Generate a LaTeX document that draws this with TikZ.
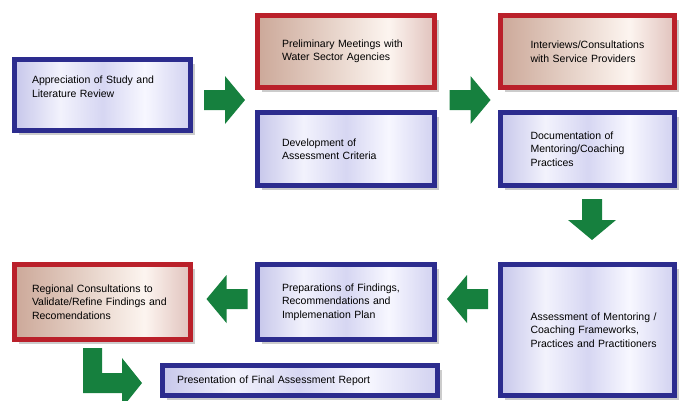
\documentclass[tikz,border=0pt]{standalone}
\usepackage{fontspec}
\setmainfont{Liberation Sans}
\usetikzlibrary{shadows}

\definecolor{framblue}{RGB}{44,44,142}
\definecolor{framred}{RGB}{186,32,42}
\definecolor{arrowgreen}{RGB}{22,128,62}

\pgfdeclarehorizontalshading{bluemetal}{100bp}{rgb(0bp)=(.78,.78,.92); rgb(25bp)=(.78,.78,.92); rgb(38bp)=(.95,.95,.99); rgb(50bp)=(.84,.84,.95); rgb(62bp)=(.97,.97,1); rgb(75bp)=(.82,.82,.94); rgb(100bp)=(.82,.82,.94)}
\pgfdeclarehorizontalshading{redmetal}{100bp}{rgb(0bp)=(.80,.66,.60); rgb(25bp)=(.80,.66,.60); rgb(45bp)=(.90,.82,.78); rgb(62bp)=(.99,.96,.94); rgb(75bp)=(.88,.76,.74); rgb(100bp)=(.88,.76,.74)}

\tikzset{
	stage/.style={rectangle, line width=5pt, align=left, inner ysep=2pt,
		font=\fontsize{10.5}{13.5}\selectfont,
		drop shadow={shadow xshift=4pt, shadow yshift=-4pt, fill=black!40}},
	bluebox/.style={stage, draw=framblue, shading=bluemetal},
	redbox/.style={stage, draw=framred, shading=redmetal},
	rightcol/.style={inner xsep=5, text width=164, execute at begin node={\leftskip=25pt}},
	flowarrow/.pic={\fill[arrowgreen] (-20.5,-10) -- (0.5,-10) -- (0.5,-24) -- (20.5,0) -- (0.5,24) -- (0.5,10) -- (-20.5,10) -- cycle;}
}

\begin{document}
\begin{tikzpicture}[x=1pt, y=-1pt]
	\useasboundingbox (0,0) rectangle (679,400);
	% top row
	\node[bluebox, minimum width=176, minimum height=71, inner xsep=17.5, text width=141] (appr) at (102.5,95) {Appreciation of Study and\\Literature Review\\[3pt]\mbox{}};
	\node[redbox, minimum width=177, minimum height=72, inner xsep=24.5, text width=128] (prelim) at (346,51.5) {Preliminary Meetings with\\Water Sector Agencies};
	\node[bluebox, minimum width=177, minimum height=73, inner xsep=24.5, text width=128] (devel) at (346,149) {Development of\\Assessment Criteria};
	\node[redbox, rightcol, minimum width=174, minimum height=72] (interv) at (587.5,51.5) {Interviews/Consultations\\with Service Providers};
	\node[bluebox, rightcol, minimum width=174, minimum height=73] (docu) at (587.5,149) {Documentation of\\Mentoring/Coaching\\Practices};
	% bottom row
	\node[bluebox, rightcol, minimum width=174, minimum height=131] (assess) at (587.5,330) {Assessment of Mentoring /\\Coaching Frameworks,\\Practices and Practitioners};
	\node[bluebox, minimum width=177, minimum height=75, inner xsep=24.5, text width=128] (prep) at (346,302) {Preparations of Findings,\\Recommendations and\\Implemenation Plan};
	\node[redbox, minimum width=176, minimum height=75, inner xsep=17.5, text width=141] (region) at (102.5,302) {Regional Consultations to\\Validate/Refine Findings and\\Recomendations};
	\node[bluebox, minimum width=275, minimum height=30, inner xsep=14.5, text width=246] (present) at (300,380.5) {Presentation of Final Assessment Report};
	% arrows
	\pic at (224.5,100) {flowarrow};
	\pic at (470,100) {flowarrow};
	\pic[rotate=-90] at (592,219.5) {flowarrow};
	\pic[rotate=180] at (467.5,299) {flowarrow};
	\pic[rotate=180] at (227,299) {flowarrow};
	\fill[arrowgreen] (83,348) -- (102,348) -- (102,373) -- (122,373) -- (122,358) -- (142,383) -- (122,408) -- (122,393) -- (83,393) -- cycle;
\end{tikzpicture}
\end{document}
